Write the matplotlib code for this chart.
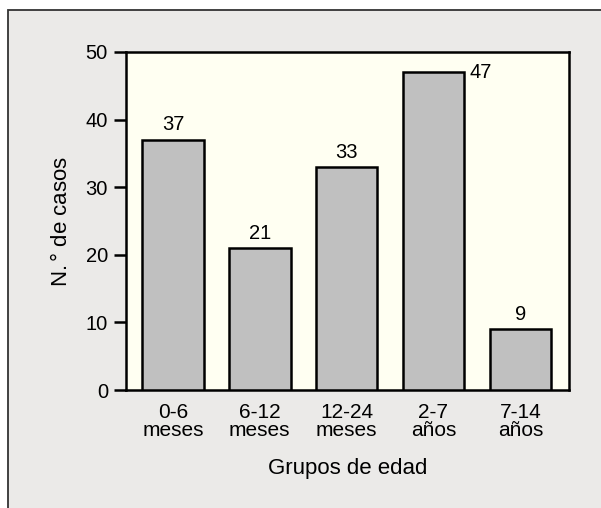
import matplotlib
matplotlib.use("Agg")
import matplotlib.pyplot as plt
from matplotlib.patches import Rectangle

plt.rcParams['font.family'] = ['Liberation Sans', 'DejaVu Sans']

categories = ["0-6\nmeses", "6-12\nmeses", "12-24\nmeses", "2-7\naños", "7-14\naños"]
casos = [37, 21, 33, 47, 9]
y_ticks = [0, 10, 20, 30, 40, 50]

fig = plt.figure(figsize=(6.01, 5.08), dpi=100)
fig.patch.set_facecolor("white")

# panel background with a thin frame on its left and top edges
panel = Rectangle((8 / 601, -0.1), 1.2, 1 - 10 / 508 + 0.1, transform=fig.transFigure,
                  facecolor="#EBEAE8", edgecolor="#333333", linewidth=1.3, zorder=-5)
fig.patches.append(panel)

ax = fig.add_axes([126 / 601, 1 - 390 / 508, (569 - 126) / 601, (390 - 52) / 508])
ax.set_zorder(1)
ax.set_facecolor("#FFFFF2")

x = list(range(len(casos)))
bars = ax.bar(x, casos, width=0.71, color="#C0C0C0", edgecolor="black", linewidth=1.8, zorder=3)

for xi, v in zip(x, casos):
    if v >= 45:
        ax.text(xi + 0.41, v, str(v), ha="left", va="center", fontsize=14.5)
    else:
        ax.text(xi, v + 0.8, str(v), ha="center", va="bottom", fontsize=14.5)

ax.set_xlim(-0.54, 4.56)
ax.set_ylim(0, 50)
ax.set_yticks(y_ticks)
ax.set_yticklabels([str(t) for t in y_ticks], fontsize=14.5)
ax.set_xticks(x)
ax.set_xticklabels(categories, fontsize=15, linespacing=0.95)
ax.tick_params(axis="x", length=0, pad=9)
ax.tick_params(axis="y", length=8.5, width=1.8, pad=4.5)

for s in ax.spines.values():
    s.set_linewidth(1.8)
    s.set_color("black")

ax.set_xlabel("Grupos de edad", fontsize=16, labelpad=13)
ax.set_ylabel("N.$\\,$° de casos", fontsize=16, labelpad=10)

fig.savefig("out.png", dpi=100)
